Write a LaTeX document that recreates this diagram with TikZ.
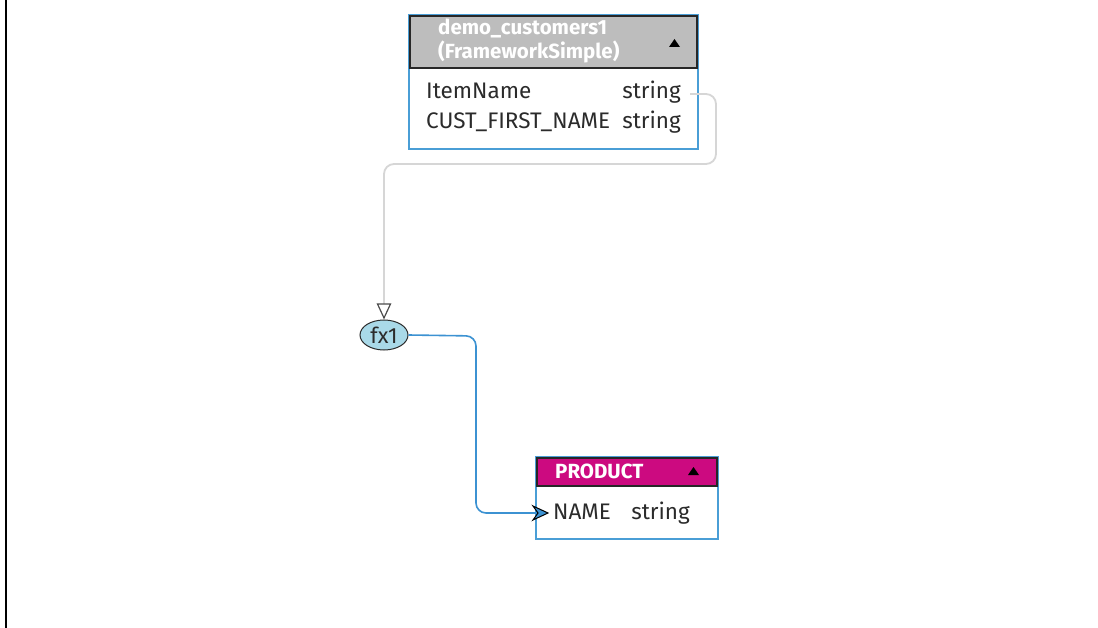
\documentclass[tikz,border=0pt]{standalone}
\usepackage{fontspec}
\setmainfont{Fira Sans}
\usetikzlibrary{arrows.meta,shapes.geometric}
\definecolor{boxblue}{HTML}{4A9ED6}
\definecolor{hdrgray}{HTML}{BDBDBD}
\definecolor{hdrmag}{HTML}{CC0A80}
\definecolor{fxfill}{HTML}{A9D9E8}
\definecolor{txt}{HTML}{2B2B2B}
\definecolor{linkgray}{HTML}{D6D6D6}
\definecolor{linkblue}{HTML}{3C92D2}
\tikzset{
  outerbox/.style={draw=boxblue, line width=1.2pt, fill=white},
  hdrbox/.style={draw=txt!90!black, line width=1.2pt},
  hdrtxt/.style={text=white, font=\fontsize{20.5}{24}\selectfont\bfseries, anchor=west, inner sep=0pt, align=left},
  rowtxt/.style={text=txt, font=\fontsize{22.5}{23}\selectfont, anchor=base west, inner sep=0pt},
}
\begin{document}
\begin{tikzpicture}[x=1pt,y=-1pt]
\useasboundingbox (0,0) rectangle (1098,628);
\fill[white] (0,0) rectangle (1098,628);
\draw[black, line width=2.5pt] (6,0) -- (6,628);

% top table
\draw[outerbox] (409,15) rectangle (698,149);
\draw[hdrbox, fill=hdrgray] (410,16) rectangle (697,68);
\node[hdrtxt] (t1a) at (438,28) {demo\_customers1};
\node[hdrtxt] (t1b) at (438,52) {(FrameworkSimple)};
\fill[black] (669,47) -- (680,47) -- (674.5,39) -- cycle;
\node[rowtxt] (r1) at (426,99) {ItemName};
\node[rowtxt, anchor=base east] (r1t) at (681,99) {string};
\node[rowtxt] (r2) at (426,129) {CUST\_FIRST\_NAME};
\node[rowtxt, anchor=base east] (r2t) at (681,129) {string};
\coordinate (c1) at (690,94);

% fx1
\node[ellipse, draw=txt, line width=1pt, fill=fxfill, minimum width=48pt, minimum height=30pt, inner sep=0pt,
      font=\fontsize{22}{22}\selectfont, text=txt] (fx) at (384,335) {fx1};

% product
\draw[outerbox] (536,457) rectangle (718,539);
\draw[hdrbox, fill=hdrmag] (537,458) rectangle (717,486);
\node[hdrtxt] (p1) at (555,471) {PRODUCT};
\fill[black] (688,475) -- (699,475) -- (693.5,467) -- cycle;
\node[rowtxt] (pn) at (553,519) {NAME};
\node[rowtxt, anchor=base east] (pt) at (690,519) {string};
\coordinate (c2) at (548,513);

% connectors
\draw[linkgray, line width=1.8pt, rounded corners=10pt] (c1) -- (716,94) -- (716,164) -- (384,164) -- (384,306);
\draw[draw=txt!85, fill=white, line width=1.2pt] (377.5,304) -- (390.5,304) -- (384,318) -- cycle;
\draw[linkblue, line width=1.6pt, rounded corners=10pt] (fx.east) -- (476,336) -- (476,513) -- (538,513);
\draw[draw=black, fill=linkblue, line width=1pt] (533,506) -- (548,513) -- (533,520) -- (538,513) -- cycle;
\end{tikzpicture}
\end{document}
